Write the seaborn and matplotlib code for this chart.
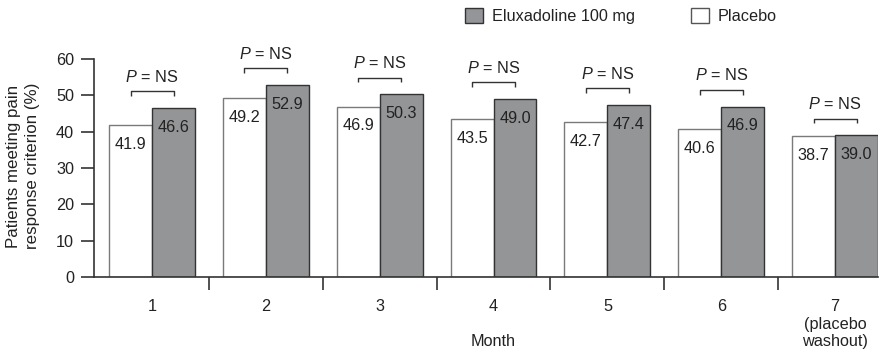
import matplotlib
matplotlib.use("Agg")
import matplotlib.pyplot as plt
from matplotlib.patches import Patch
import seaborn as sns
import pandas as pd

# ---- data ----
months = ["1", "2", "3", "4", "5", "6", "7\n(placebo\nwashout)"]
placebo = [41.9, 49.2, 46.9, 43.5, 42.7, 40.6, 38.7]
eluxadoline = [46.6, 52.9, 50.3, 49.0, 47.4, 46.9, 39.0]
p_labels = ["NS"] * 7
series_names = ["Placebo", "Eluxadoline 100 mg"]
y_ticks = [0, 10, 20, 30, 40, 50, 60]

FS = 11.7

sns.set_theme(style="white")
plt.rcParams["font.family"] = ["Liberation Sans", "DejaVu Sans"]
plt.rcParams["mathtext.fontset"] = "custom"
plt.rcParams["mathtext.it"] = "Liberation Sans:italic"
plt.rcParams["mathtext.rm"] = "Liberation Sans"

df = pd.DataFrame({
    "month": months * 2,
    "group": [series_names[0]] * len(months) + [series_names[1]] * len(months),
    "value": placebo + eluxadoline,
})

fig = plt.figure(figsize=(8.84, 3.56), dpi=100)
ax = fig.add_axes([94 / 884, 1 - 277 / 356, 784 / 884, 218 / 356])

gray = "#939598"
sns.barplot(data=df, x="month", y="value", hue="group", order=months,
            hue_order=series_names,
            palette={series_names[0]: "white", series_names[1]: gray},
            width=0.754, errorbar=None, legend=False, ax=ax, zorder=2)

edge_cols = ["#7a7a7a", "#333333"]
for cont, ec in zip(ax.containers, edge_cols):
    for bar in cont:
        bar.set_edgecolor(ec)
        bar.set_linewidth(1.0)

# value labels inside bars
for cont in ax.containers:
    for bar in cont:
        h = bar.get_height()
        ax.annotate(f"{h:.1f}", (bar.get_x() + bar.get_width() / 2, h),
                    xytext=(0, -17.2), textcoords="offset points",
                    ha="center", va="baseline", fontsize=FS, color="#222222",
                    zorder=4)

# brackets with P = NS
pl_bars = list(ax.containers[0])
el_bars = list(ax.containers[1])
for b1, b2, p in zip(pl_bars, el_bars, p_labels):
    x1 = b1.get_x() + b1.get_width() / 2
    x2 = b2.get_x() + b2.get_width() / 2
    top = max(b1.get_height(), b2.get_height()) + 4.6
    ax.plot([x1, x1, x2, x2], [top - 1.35, top, top, top - 1.35],
            color="#333333", lw=1.0, solid_capstyle="butt", clip_on=False)
    ax.annotate(r"$P$ = " + p, ((x1 + x2) / 2, top), xytext=(0, 6.8),
                textcoords="offset points", ha="center", va="baseline",
                fontsize=FS, color="#222222", annotation_clip=False)

# axes styling
ax.set_ylim(0, 60)
ax.set_xlim(-0.51, 6.377)
ax.set_yticks(y_ticks)
ax.set_xticks(range(len(months)))
ax.set_xticklabels(months)
for lbl in ax.get_xticklabels():
    lbl.set_linespacing(1.2)
ax.set_xticks([i + 0.5 for i in range(len(months) - 1)], minor=True)
ax.tick_params(axis="x", which="major", length=0, pad=16, labelsize=FS,
               colors="#222222")
ax.tick_params(axis="x", which="minor", length=9, width=1.2, color="#333333",
               direction="out", bottom=True)
ax.tick_params(axis="y", which="major", length=9.4, width=1.2, pad=5,
               labelsize=FS, color="#333333", labelcolor="#222222",
               direction="out", left=True)
for s in ["top", "right"]:
    ax.spines[s].set_visible(False)
for s in ["left", "bottom"]:
    ax.spines[s].set_color("#333333")
    ax.spines[s].set_linewidth(1.2)
ax.set_ylabel("")
ax.set_xlabel("Month", fontsize=FS, color="#222222")
ax.xaxis.set_label_coords((493 - 94) / 784, -(334 - 277) / 218)

fig.text(23 / 884, 1 - 166 / 356,
         "Patients meeting pain\nresponse criterion (%)",
         rotation=90, ha="center", va="center", fontsize=12.2,
         color="#222222", linespacing=1.3)

handles = [Patch(facecolor=gray, edgecolor="#333333", lw=1.0),
           Patch(facecolor="white", edgecolor="#555555", lw=1.0)]
fig.legend(handles, [series_names[1], series_names[0]], ncol=2,
           loc="center left", bbox_to_anchor=(465 / 884, 1 - 16 / 356),
           frameon=False, fontsize=FS, handlelength=1.1, handleheight=1.1,
           handletextpad=0.55, columnspacing=3.45, borderpad=0,
           borderaxespad=0, labelcolor="#222222")

fig.savefig("out.png", dpi=100)
